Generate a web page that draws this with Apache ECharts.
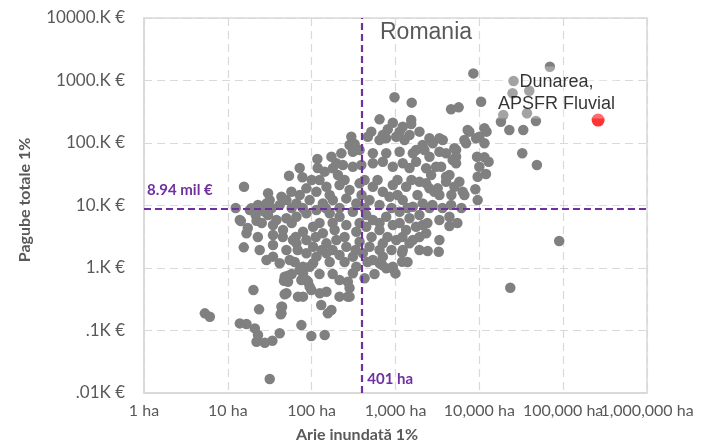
<!DOCTYPE html>
<html>
<head>
<meta charset="utf-8">
<title>Romania</title>
<script src="https://cdn.jsdelivr.net/npm/echarts@6/dist/echarts.min.js"></script>
<style>
  html, body { margin: 0; padding: 0; background: #fff; }
  #chart { width: 706px; height: 444px; }
</style>
</head>
<body>
<div id="chart"></div>
<script>
// Arie inundată 1% (ha) per APSFR
const areaHa = [
  69500, 8490, 25600, 39400, 24900, 19300, 37000, 18100, 47300, 22800,
  33400, 32500, 48600, 10500, 4600, 5670, 1560, 973, 1540, 1540,
  645, 929, 1220, 7260, 6630, 11500, 12200, 10000, 11500, 9390,
  12900, 9550, 12000, 8960, 9550, 89600, 23400, 11500, 5280, 5280,
  4810, 4400, 4010, 3190, 2910, 6330, 6630, 2320, 2660, 3340,
  3280, 2420, 4400, 4400, 2760, 3630, 4600, 1200, 1200, 914,
  1000, 695, 428, 283, 283, 9140, 514, 468, 706, 1120,
  1470, 1930, 2540, 3340, 2780, 2110, 1760, 810, 1020, 775,
  297, 283, 325, 226, 172, 117, 53.7, 77.5, 15.6, 143,
  197, 206, 30.2, 43.6, 57.3, 31.6, 19.1, 22.9, 27.6,
  310, 537, 775, 1120, 1610, 2540, 3340,
  179, 236, 310, 391, 537, 706, 929, 1220, 1760, 3050,
  86.5, 114, 150, 215, 283, 373, 537, 706, 929, 1340, 1930, 2540,
  18.3, 24.0, 28.9, 41.6, 50.0, 65.8, 94.6, 136, 179, 259, 341, 490, 645, 849, 1220, 1610, 2110,
  13.9, 22.0, 30.2, 38.0, 50.0, 65.8, 86.5, 114, 164, 215, 310, 448, 537, 775, 1120, 1470, 1930, 3340,
  16.7, 34.6, 45.5, 59.9, 78.8, 104, 136, 188, 259, 341, 448, 645, 929, 1340, 1760, 2320,
  15.5, 34.6, 34.6, 50.0, 65.8, 86.5, 104, 150, 197, 259, 373, 490, 706, 1020, 1470,
  28.9, 34.6, 41.6, 54.7, 86.5, 114, 150, 215, 310, 408, 537, 706, 929,
  78.8, 104, 78.8, 86.5, 94.6, 125, 150, 215, 270, 310, 341, 645, 775,
  47.7, 50.0, 52.2, 78.8, 215, 270,
  130, 156, 172, 43.6, 43.6,
  5.32, 6.10, 13.9, 16.7, 21.0, 22.9, 22.0, 27.6, 34.0, 41.6, 75.4, 99, 143, 23.6, 31.6,
  14.3, 46.8, 52.2, 20.2, 47.7, 44.3, 42.8, 68.7, 90.4, 75.4, 99, 72, 94.6,
  2110, 1610, 1220, 5780, 5040, 4010, 2320, 3500, 5280,
  7600, 6950, 3660, 5040, 4010, 10000,
  // nucleul dens al norului
  100, 124, 247, 428, 611, 1056, 1550,
  72, 164, 394, 1056, 1830, 3340, 4640,
  12.4, 33.4, 57.8, 78.2, 147, 215, 428, 896, 1390, 2540, 6110,
  25.4, 57.8, 124, 178, 373, 645, 1120, 2400, 5470,
  22.8, 45.2, 64.5, 112, 247, 518, 803, 1210, 1930,
  24.0, 68.1, 132, 178, 334, 645, 896, 1930,
  62.8, 164, 247, 464, 1390,
  57.8, 124, 178, 562,
  72, 118, 1470,
  373, 2210, 1280, 645,
  21.5, 17.3
]

// Pagube totale 1% (mii €), same order as areaHa
const damageK = [
  1660, 1300, 980, 687, 624, 281, 299, 219, 225, 161,
  161, 68.4, 44.5, 458, 346, 372, 442, 538, 233, 201,
  239, 211, 182, 161, 112, 172, 152, 126, 98.9, 60.4,
  50.2, 28.9, 31.9, 18.2, 12.2, 2.7, 0.484, 59, 77.3, 47.3,
  53.5, 30.8, 24.0, 18.8, 16.6, 16.6, 14.7, 39.4, 30.8, 2.81,
  1.82, 1.87, 6.62, 4.70, 10.2, 9.12, 10.2, 1.76, 1.26, 0.99,
  0.82, 1.12, 0.684, 0.479, 0.348, 119, 152, 126, 134, 152,
  134, 152, 119, 119, 98.9, 92.9, 77.3, 166, 126, 119,
  126, 92.9, 96.4, 68.4, 60.4, 55.5, 30.0, 28.3, 20.0, 34.8,
  47.3, 30.8, 15.7, 13.8, 16.6, 12.2, 9.02, 10.2, 7.96,
  72.6, 68.4, 68.4, 72.6, 68.4, 60.4, 72.6,
  39.4, 44.5, 41.8, 44.5, 47.3, 50.2, 41.8, 47.3, 50.2, 41.8,
  18.8, 16.6, 20.0, 21.3, 17.7, 22.6, 20.0, 16.6, 21.3, 20.0, 24.0, 18.8,
  8.47, 9.57, 10.8, 10.2, 12.2, 10.8, 12.2, 10.8, 12.2, 13.0, 10.8, 12.2, 10.2, 13.8, 12.2, 9.57, 10.8,
  5.86, 5.71, 7.05, 5.86, 6.24, 6.62, 7.50, 8.47, 7.50, 6.62, 7.96, 7.05, 5.86, 6.62, 7.96, 6.24, 7.05, 5.86,
  3.59, 4.88, 4.06, 2.81, 3.81, 4.58, 3.59, 4.06, 4.88, 3.81, 4.58, 4.06, 4.88, 4.06, 4.58, 3.59,
  2.14, 3.37, 2.33, 1.94, 2.48, 2.81, 2.19, 2.48, 2.81, 2.19, 2.64, 2.19, 2.48, 2.81, 2.48,
  1.34, 1.52, 1.19, 1.34, 1.72, 1.52, 1.72, 1.61, 1.52, 1.72, 1.34, 1.52, 1.05,
  1.05, 1.19, 0.822, 0.643, 0.502, 0.394, 0.418, 0.643, 0.604, 0.822, 1.05, 1.19, 0.99,
  0.726, 0.394, 0.604, 0.348, 0.348, 0.348,
  0.256, 0.188, 0.213, 0.240, 0.188,
  0.188, 0.166, 0.130, 0.127, 0.108, 0.0847, 0.0662, 0.0638, 0.0687, 0.0902, 0.122, 0.0817, 0.0847, 0.218, 0.0168,
  5.65, 0.627, 0.754, 0.445, 0.379, 0.240, 0.182, 0.348, 0.604, 0.643, 0.445, 0.929, 1.05,
  4.88, 2.81, 1.94, 24.0, 20.0, 28.9, 22.6, 41.8, 60.4,
  152, 98.9, 112, 82.2, 68.4, 41.8,
  // nucleul dens al norului
  25.6, 25.6, 25.6, 25.6, 25.6, 25.6, 25.6,
  14.7, 14.7, 14.7, 14.7, 14.7, 14.7, 14.7,
  9.12, 9.12, 9.12, 9.12, 9.12, 9.12, 9.12, 9.12, 9.12, 9.12, 9.12,
  5.25, 5.25, 5.25, 5.25, 5.25, 5.25, 5.25, 5.25, 5.25,
  3.13, 3.13, 3.13, 3.13, 3.13, 3.13, 3.13, 3.13, 3.13,
  1.94, 1.94, 1.94, 1.94, 1.94, 1.94, 1.94, 1.94,
  1.25, 1.25, 1.25, 1.25, 1.25,
  0.80, 0.80, 0.80, 0.80,
  39.8, 39.8, 39.8,
  77.3, 77.3, 112, 112,
  7.05, 4.37
]

// APSFR evidențiat
const highlightArea = 261000
const highlightDamage = 233
const highlightName = 'Dunarea,\nAPSFR Fluvial'

// mediane (linii punctate)
const medianArea = 401
const medianDamage = 8.94
const medianAreaLabel = '401 ha'
const medianDamageLabel = '8.94 mil €'

// etichete axe
const xTickLabels = ['1 ha', '10 ha', '100 ha', '1,000 ha', '10,000 ha', '100,000 ha', '1,000,000 ha']
const yTickLabels = ['.01K €', '.1K €', '1.K €', '10.K €', '100.K €', '1000.K €', '10000.K €']

const grey = '#595959'
const purple = '#7030a0'
const tickFont = 'Lato, "Noto Sans", sans-serif'
const lastX = xTickLabels.length - 1

const points = areaHa.map((a, i) => [a, damageK[i]])

// eticheta pentru un tick de pe axa X (ultima e desenată separat, ca să nu se ascundă penultima)
const xLabel = (v, onlyLast) => {
  const i = Math.round(Math.log10(v))
  if (onlyLast) return i === lastX ? xTickLabels[i] : ''
  return i === lastX ? '' : xTickLabels[i]
}

const xAxisBase = {
  type: 'log',
  logBase: 10,
  min: 1,
  max: 1000000,
  gridIndex: 0,
  position: 'bottom',
  axisTick: { show: false }
}

const xLabelStyle = {
  margin: 10,
  color: grey,
  fontFamily: tickFont,
  fontSize: 16,
  interval: 0,
  hideOverlap: false,
  showMinLabel: true,
  showMaxLabel: true
}

const chart = echarts.init(document.getElementById('chart'))

const option = {
  animation: false,
  title: {
    text: 'Romania',
    left: 375,
    top: 16,
    textStyle: { fontFamily: '"Liberation Sans", Arial, sans-serif', fontSize: 23, fontWeight: 'normal', color: grey }
  },
  grid: {
    left: 144, right: 59, top: 18, bottom: 51,
    show: true, borderColor: '#d9d9d9', borderWidth: 1.5
  },
  xAxis: [
    {
      ...xAxisBase,
      axisLine: { show: true, lineStyle: { color: '#d9d9d9', width: 1.5 } },
      splitLine: { show: true, lineStyle: { color: '#d9d9d9', width: 1.2, type: [8, 5] } },
      axisLabel: { ...xLabelStyle, formatter: v => xLabel(v, false) }
    },
    {
      ...xAxisBase,
      axisLine: { show: false },
      splitLine: { show: false },
      axisLabel: { ...xLabelStyle, formatter: v => xLabel(v, true) }
    }
  ],
  yAxis: {
    type: 'log',
    logBase: 10,
    min: 0.01,
    max: 10000,
    axisLine: { show: true, lineStyle: { color: '#d9d9d9', width: 1.5 } },
    axisTick: { show: false },
    splitLine: { show: true, lineStyle: { color: '#d9d9d9', width: 1.2, type: [8, 5] } },
    axisLabel: {
      margin: 19,
      color: grey,
      fontFamily: tickFont,
      fontSize: 17,
      interval: 0,
      showMinLabel: true,
      showMaxLabel: true,
      formatter: v => yTickLabels[Math.round(Math.log10(v)) + 2]
    }
  },
  series: [
    {
      name: 'APSFR',
      type: 'scatter',
      xAxisIndex: 0,
      symbolSize: 10.5,
      itemStyle: { color: '#808080', opacity: 1 },
      data: points,
      markLine: {
        silent: true,
        symbol: 'none',
        label: { show: false },
        lineStyle: { color: purple, width: 2.2, type: [7, 4] },
        data: [{ xAxis: medianArea }, { yAxis: medianDamage }]
      }
    },
    {
      name: 'Dunarea',
      type: 'scatter',
      xAxisIndex: 0,
      symbolSize: 13,
      itemStyle: { color: '#ff0000' },
      data: [{ name: highlightName, value: [highlightArea, highlightDamage] }],
      label: {
        show: true,
        position: [-35, -21],
        align: 'center',
        verticalAlign: 'middle',
        formatter: '{b}',
        color: '#000',
        fontFamily: '"Liberation Sans", Arial, sans-serif',
        fontSize: 18,
        lineHeight: 22,
        backgroundColor: 'rgba(255,255,255,0.35)',
        padding: [4, 2]
      }
    }
  ]
}

chart.setOption(option)

// etichetele medianelor și titlurile axelor
const [lineX, bottomY] = chart.convertToPixel({ gridIndex: 0 }, [medianArea, 0.01])
const [leftX, lineY] = chart.convertToPixel({ gridIndex: 0 }, [1, medianDamage])
const labelFont = 'bold 15px Lato, "Noto Sans", sans-serif'

chart.setOption({
  graphic: [
    {
      type: 'text', left: lineX + 5, top: bottomY - 21,
      style: { text: medianAreaLabel, font: labelFont, fill: purple }
    },
    {
      type: 'text', left: leftX + 3, top: lineY - 26,
      style: { text: medianDamageLabel, font: labelFont, fill: purple }
    },
    {
      type: 'text', x: 25, y: 200, rotation: Math.PI / 2,
      style: {
        text: 'Pagube totale 1%', font: 'bold 16px Lato, "Noto Sans", sans-serif',
        fill: grey, align: 'center', verticalAlign: 'middle'
      }
    },
    {
      type: 'text', x: 357, y: 435,
      style: {
        text: 'Arie inundată 1%', font: 'bold 16px Lato, "Noto Sans", sans-serif',
        fill: grey, align: 'center', verticalAlign: 'middle'
      }
    }
  ]
})
</script>
</body>
</html>
